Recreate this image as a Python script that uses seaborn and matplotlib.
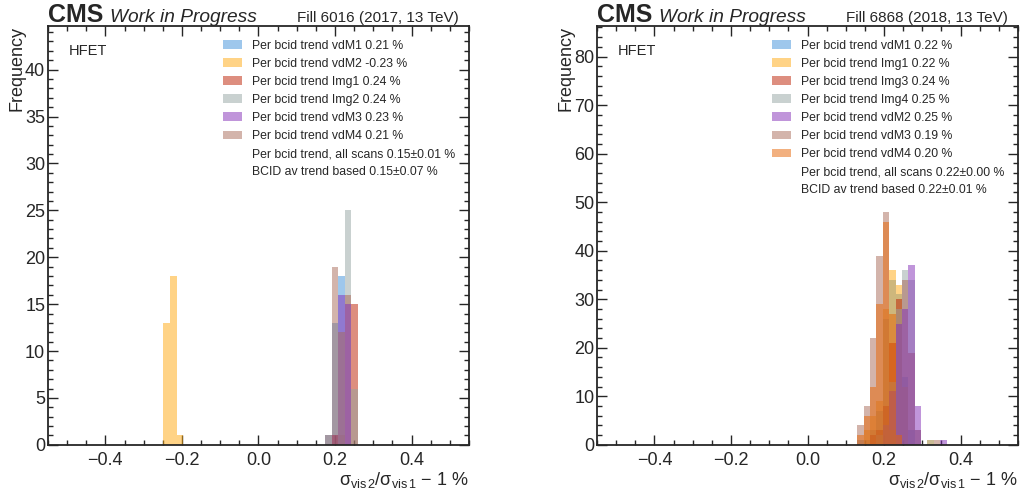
import numpy as np
import pandas as pd
import matplotlib
matplotlib.use("Agg")
import matplotlib.pyplot as plt
import matplotlib.patches as mpatches
from matplotlib.ticker import MultipleLocator, AutoMinorLocator
import seaborn as sns

sns.set_style("ticks")
plt.rcParams["font.family"] = ["Liberation Sans", "DejaVu Sans"]
plt.rcParams["mathtext.fontset"] = "custom"
plt.rcParams["mathtext.rm"] = "Liberation Sans"
plt.rcParams["mathtext.it"] = "Liberation Sans:italic"
plt.rcParams["mathtext.bf"] = "Liberation Sans:bold"
plt.rcParams["axes.unicode_minus"] = True

palette = ["#3f90da", "#ffa90e", "#bd1f01", "#94a4a2", "#832db6", "#a96b59", "#e76300"]

# ---------------- Left panel data (Fill 6016) ----------------
left_fill = "Fill 6016 (2017, 13 TeV)"
left_scans = ["vdM1", "vdM2", "Img1", "Img2", "vdM3", "vdM4"]
left_means = ["0.21", "-0.23", "0.24", "0.24", "0.23", "0.21"]
left_edges = [0.174, 0.1912, 0.2084, 0.2256, 0.2428, 0.260]
left_vdM2_edges = [-0.249, -0.231, -0.213, -0.196]
left_vdM1 = [1, 13, 18, 0, 0]
left_vdM2 = [13, 18, 1]
left_Img1 = [0, 1, 0, 16, 15]
left_Img2 = [0, 0, 1, 25, 6]
left_vdM3 = [0, 1, 16, 15, 0]
left_vdM4 = [1, 19, 12, 0, 0]
left_extra = ["Per bcid trend, all scans 0.15\u00b10.01 %", "BCID av trend based 0.15\u00b10.07 %"]
left_ytop = 44.7

# ---------------- Right panel data (Fill 6868) ----------------
right_fill = "Fill 6868 (2018, 13 TeV)"
right_scans = ["vdM1", "Img1", "Img3", "Img4", "vdM2", "vdM3", "vdM4"]
right_means = ["0.22", "0.22", "0.24", "0.25", "0.25", "0.19", "0.20"]
right_edges = [0.130, 0.1467, 0.1633, 0.180, 0.1966, 0.2133, 0.230, 0.2466,
               0.2633, 0.280, 0.2966, 0.3133, 0.330, 0.3466, 0.3633]
right_vdM1 = [1, 1, 3, 7, 26, 34, 31, 14, 3, 0, 0, 0, 0, 0]
right_Img1 = [0, 3, 6, 9, 28, 36, 33, 12, 0, 0, 0, 1, 0, 0]
right_Img3 = [0, 0, 2, 3, 8, 21, 30, 34, 19, 3, 0, 0, 0, 0]
right_Img4 = [0, 0, 0, 2, 4, 13, 28, 36, 34, 3, 0, 1, 0, 0]
right_vdM2 = [0, 0, 0, 0, 4, 11, 25, 28, 37, 8, 0, 0, 0, 1]
right_vdM3 = [4, 8, 22, 39, 48, 3, 0, 0, 0, 0, 0, 0, 1, 0]
right_vdM4 = [2, 6, 12, 29, 46, 27, 2, 0, 0, 0, 0, 0, 0, 0]
right_extra = ["Per bcid trend, all scans 0.22\u00b10.00 %", "BCID av trend based 0.22\u00b10.01 %"]
right_ytop = 86.4

left_series = [
    (left_vdM1, left_edges), (left_vdM2, left_vdM2_edges), (left_Img1, left_edges),
    (left_Img2, left_edges), (left_vdM3, left_edges), (left_vdM4, left_edges),
]
right_series = [(c, right_edges) for c in
                [right_vdM1, right_Img1, right_Img3, right_Img4, right_vdM2, right_vdM3, right_vdM4]]

fig = plt.figure(figsize=(10.25, 4.91), dpi=100)
ax_l = fig.add_axes([0.0468, 0.094, 0.4107, 0.854])
ax_r = fig.add_axes([0.5825, 0.094, 0.4107, 0.854])

xlabel = "\u03c3$_{\\rm vis\\,2}$/\u03c3$_{\\rm vis\\,1}$ \u2212 1 %"


def draw(ax, series, scans, means, extra, fill, ymajor, ytop):
    handles = []
    labels = []
    for i, ((counts, edges), scan, mean) in enumerate(zip(series, scans, means)):
        e = np.asarray(edges, dtype=float)
        centers = (e[:-1] + e[1:]) / 2
        df = pd.DataFrame({"x": centers, "w": np.asarray(counts, dtype=float)})
        sns.histplot(data=df, x="x", weights="w", bins=list(edges), color=palette[i],
                     alpha=0.5, edgecolor="none", linewidth=0, ax=ax, stat="count")
        handles.append(mpatches.Patch(facecolor=palette[i], alpha=0.5, edgecolor="none"))
        labels.append(f"Per bcid trend {scan} {mean} %")
    for t in extra:
        handles.append(mpatches.Patch(facecolor="none", edgecolor="none"))
        labels.append(t)
    ax.set_xlim(-0.55, 0.55)
    ax.set_ylim(0, ytop)
    ax.xaxis.set_major_locator(MultipleLocator(0.2))
    ax.xaxis.set_minor_locator(AutoMinorLocator(4))
    ax.yaxis.set_major_locator(MultipleLocator(ymajor))
    ax.yaxis.set_minor_locator(AutoMinorLocator(5))
    ax.tick_params(which="both", direction="in", top=True, right=True, width=1.0)
    ax.tick_params(which="major", length=7)
    ax.tick_params(which="minor", length=3.5)
    ax.tick_params(axis="x", which="major", labelsize=13, pad=5)
    ax.tick_params(axis="y", which="major", labelsize=13, pad=2)
    for s in ax.spines.values():
        s.set_linewidth(1.3)
    ax.set_xlabel(xlabel, loc="right", fontsize=13, labelpad=1)
    ax.set_ylabel("Frequency", loc="top", fontsize=13, labelpad=0)
    ax.text(0.0, 1.009, "CMS", transform=ax.transAxes, fontsize=18,
            fontweight="bold", ha="left", va="baseline")
    ax.text(0.148, 1.009, "Work in Progress", transform=ax.transAxes, fontsize=13.8,
            fontstyle="italic", ha="left", va="baseline")
    ax.text(0.975, 1.009, fill, transform=ax.transAxes, fontsize=11,
            ha="right", va="baseline")
    ax.text(0.05, 0.94, "HFET", transform=ax.transAxes, fontsize=10.5, va="center")
    ax.legend(handles, labels, loc="upper right", frameon=False, fontsize=8.8,
              handlelength=1.6, handleheight=0.7, handletextpad=0.75,
              labelspacing=0.5, borderaxespad=0.75)


draw(ax_l, left_series, left_scans, left_means, left_extra, left_fill, 5, left_ytop)
draw(ax_r, right_series, right_scans, right_means, right_extra, right_fill, 10, right_ytop)

fig.savefig("out.png", dpi=100)
